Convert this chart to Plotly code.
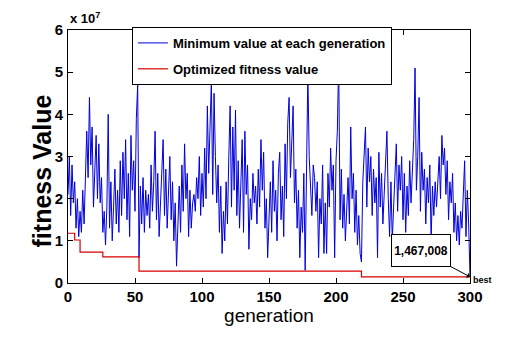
import plotly.graph_objects as go

# ---- data (fitness values in units of 1e7) ----
blue_0_50 = [2.1, 3.0, 1.6, 2.8, 1.9, 2.4, 1.3, 2.0, 1.1, 1.7,
             1.2, 2.2, 1.4, 2.9, 3.6, 2.5, 4.4, 2.8, 3.7, 1.8,
             2.6, 3.5, 2.0, 3.3, 1.9, 2.5, 1.2, 1.7, 0.9, 1.8,
             4.0, 1.3, 2.4, 1.0, 1.8, 2.7, 1.4, 2.2, 1.2, 2.9,
             1.6, 3.1, 2.0, 3.4, 1.5, 2.6, 1.1, 3.5, 2.2, 2.9]
blue_50_100 = [1.7, 3.9, 4.7, 0.6, 2.3, 1.4, 2.5, 1.2, 2.2, 1.6,
               2.1, 1.3, 2.8, 1.7, 2.4, 3.6, 1.5, 2.6, 1.1, 2.0,
               2.9, 3.4, 1.6, 2.7, 1.3, 2.2, 3.0, 1.5, 2.4, 1.0,
               1.9, 0.4, 1.6, 2.3, 1.2, 2.8, 1.7, 3.3, 2.0, 2.6,
               1.1, 2.2, 1.3, 1.9, 2.1, 1.7, 2.5, 2.0, 3.0, 1.6]
blue_100_150 = [2.6, 1.8, 3.2, 2.0, 4.2, 2.6, 3.7, 4.8, 2.1, 4.5,
                3.0, 1.9, 2.8, 1.2, 2.3, 0.7, 1.7, 1.0, 2.4, 1.4,
                3.0, 4.2, 1.8, 3.7, 2.2, 4.1, 1.6, 2.9, 1.3, 2.5,
                3.4, 1.2, 3.6, 2.1, 2.8, 0.8, 2.0, 1.5, 2.6, 1.9,
                2.3, 1.4, 2.7, 1.8, 3.4, 2.2, 3.1, 1.3, 2.0, 0.6]
blue_150_200 = [1.8, 2.4, 1.2, 2.9, 1.7, 2.2, 1.0, 2.6, 3.1, 1.5,
                2.3, 1.1, 3.3, 2.0, 3.8, 4.4, 2.5, 3.6, 4.2, 1.9,
                2.7, 1.3, 2.2, 0.6, 1.8, 1.2, 2.6, 0.3, 3.2, 5.0,
                3.0, 2.4, 1.6, 2.8, 2.5, 1.7, 2.4, 0.6, 2.0, 1.4,
                2.8, 0.7, 1.9, 0.7, 2.6, 1.8, 3.2, 2.2, 2.8, 0.6]
blue_200_250 = [2.9, 3.6, 5.3, 1.5, 2.7, 1.3, 2.1, 1.0, 1.9, 2.5,
                1.4, 3.7, 2.0, 2.6, 1.2, 2.2, 0.9, 1.6, 0.7, 0.5,
                2.4, 3.0, 3.7, 1.8, 3.2, 2.4, 3.0, 1.6, 2.7, 1.9,
                2.5, 0.6, 3.1, 1.8, 2.6, 1.4, 2.2, 3.0, 3.6, 2.0,
                1.1, 2.4, 1.0, 1.8, 2.6, 3.3, 1.7, 2.8, 2.2, 3.0]
blue_250_300 = [1.5, 2.6, 1.2, 2.3, 1.6, 2.9, 1.9, 2.7, 3.4, 5.1,
                2.2, 3.0, 4.4, 1.7, 3.1, 2.2, 2.7, 1.4, 2.5, 1.9,
                2.8, 1.0, 2.3, 1.6, 2.4, 1.8, 2.6, 3.0, 2.0, 3.5,
                2.8, 3.2, 2.1, 2.9, 1.5, 2.4, 1.9, 2.6, 1.2, 1.9,
                1.0, 1.6, 0.9, 1.7, 1.3, 2.1, 2.9, 1.1, 2.2, 1.4,
                0.1467008]
blue_vals = blue_0_50 + blue_50_100 + blue_100_150 + blue_150_200 + blue_200_250 + blue_250_300
generations = list(range(len(blue_vals)))

red_gens = [0, 5, 9, 26, 53, 219, 300]
red_vals = [1.18, 1.02, 0.73, 0.62, 0.28, 0.1467008, 0.1467008]

best_value = 1467008
best_label = "1,467,008"
x_ticks = [0, 50, 100, 150, 200, 250, 300]
y_ticks = [0, 1, 2, 3, 4, 5, 6]

SANS = "Liberation Sans, Arial, sans-serif"

fig = go.Figure()
fig.add_trace(go.Scatter(x=generations, y=blue_vals, mode="lines",
                         name="Minimum value at each generation", legendgroup="a",
                         line=dict(color="#0000dd", width=1)))
fig.add_trace(go.Scatter(x=red_gens, y=red_vals, mode="lines", line_shape="hv",
                         name="Optimized fitness value", legendgroup="b",
                         line=dict(color="#d80000", width=1.2)))

axis_common = dict(showline=True, linecolor="black", linewidth=1, mirror="ticks",
                   ticks="inside", ticklen=5, tickwidth=1, tickcolor="black",
                   showgrid=False, zeroline=False,
                   tickfont=dict(family=SANS, size=15, color="black", weight="bold"))

fig.update_xaxes(range=[0, 300], tickvals=x_ticks,
                 title=dict(text="generation", standoff=4,
                            font=dict(family=SANS, size=19, color="black")),
                 **axis_common)
fig.update_yaxes(range=[0, 6], tickvals=y_ticks, ticklabelstandoff=1, **axis_common)

fig.add_annotation(xref="paper", yref="paper", x=-0.026, y=0.443, textangle=-90,
                   text="fitness Value", showarrow=False, xanchor="right", yanchor="middle",
                   font=dict(family=SANS, size=25, color="black", weight="bold"))
fig.add_annotation(xref="paper", yref="paper", x=0.0, y=1.0, xanchor="left", yanchor="bottom",
                   yshift=2, text="x 10<sup>7</sup>", showarrow=False,
                   font=dict(family=SANS, size=13, color="black", weight="bold"))
fig.add_annotation(x=300, y=best_value / 1e7, text=best_label, showarrow=True,
                   ax=-49, ay=-26, arrowhead=1, arrowsize=1, arrowwidth=1, arrowcolor="black",
                   width=58, height=31, bordercolor="black", borderwidth=1, borderpad=0,
                   bgcolor="white",
                   font=dict(family=SANS, size=12, color="black", weight="bold"))
fig.add_annotation(x=300, y=best_value / 1e7, text="best", showarrow=False,
                   xanchor="left", yanchor="middle", xshift=1, yshift=-3,
                   font=dict(family=SANS, size=9, color="black", weight="bold"))

fig.update_layout(width=520, height=341,
                  margin=dict(l=68, r=50, t=30, b=58),
                  paper_bgcolor="white", plot_bgcolor="white",
                  showlegend=True,
                  legend=dict(x=0.159, y=1.012, xanchor="left", yanchor="top",
                              bgcolor="white", bordercolor="black", borderwidth=1,
                              tracegroupgap=6,
                              font=dict(family=SANS, size=13, color="black", weight="bold"),
                              itemwidth=30))

fig.write_html("out.html")
